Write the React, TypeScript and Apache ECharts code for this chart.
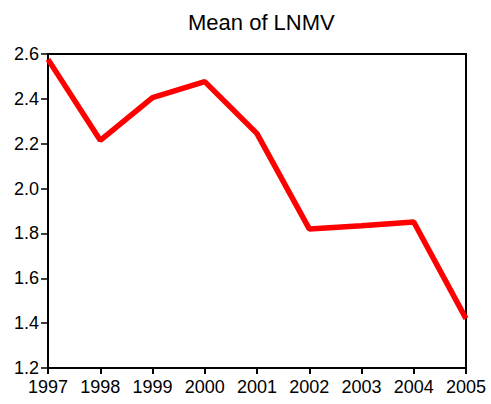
import React, { useEffect, useRef } from "react";
import * as echarts from "echarts";

const years = ["1997", "1998", "1999", "2000", "2001", "2002", "2003", "2004", "2005"];
const meanLNMV = [2.576, 2.215, 2.405, 2.477, 2.245, 1.82, 1.834, 1.851, 1.42];
const titleText = "Mean of LNMV";
const yMin = 1.2;
const yMax = 2.6;
const yStep = 0.2;

export default function App() {
  const ref = useRef<HTMLDivElement>(null);
  useEffect(() => {
    document.body.style.margin = "0";
    const chart = echarts.init(ref.current!, null, { renderer: "svg" });
    const font = "'Liberation Sans', Arial, sans-serif";
    chart.setOption({
      animation: false,
      backgroundColor: "#ffffff",
      title: {
        text: titleText,
        left: 183,
        top: 6,
        textStyle: { fontFamily: font, fontSize: 22, fontWeight: "normal", color: "#000" },
      },
      grid: {
        left: 48,
        right: 25,
        top: 54,
        bottom: 36,
        show: true,
        borderColor: "#000",
        borderWidth: 2,
        containLabel: false,
      },
      xAxis: {
        type: "category",
        data: years,
        boundaryGap: false,
        axisLine: { lineStyle: { color: "#000", width: 2 } },
        axisTick: { show: true, length: 6, lineStyle: { color: "#000", width: 2 } },
        axisLabel: { color: "#000", fontFamily: font, fontSize: 18, margin: 10 },
        splitLine: { show: false },
      },
      yAxis: {
        type: "value",
        min: yMin,
        max: yMax,
        interval: yStep,
        axisLine: { show: true, lineStyle: { color: "#000", width: 2 } },
        axisTick: { show: true, length: 7, lineStyle: { color: "#000", width: 1.5 } },
        axisLabel: {
          color: "#000",
          fontFamily: font,
          fontSize: 18,
          margin: 9,
          formatter: (v: number) => v.toFixed(1),
        },
        splitLine: { show: false },
      },
      series: [
        {
          type: "line",
          data: meanLNMV,
          showSymbol: false,
          symbol: "none",
          lineStyle: { color: "#ff0000", width: 5.5 },
          clip: false,
        },
      ],
    });
    return () => chart.dispose();
  }, []);
  return <div ref={ref} style={{ width: 491, height: 404 }} />;
}
